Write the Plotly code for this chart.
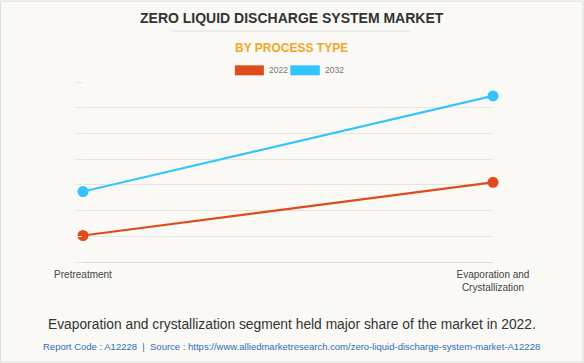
import plotly.graph_objects as go

categories = ["Pretreatment", "Evaporation and<br>Crystallization"]
values_2022 = [1.03, 3.10]
values_2032 = [2.74, 6.46]
series_names = ["2022", "2032"]
colors = ["#E04A1A", "#33C4FF"]

W, H = 584, 363
L, R, T, B = 83, 493.3, 81.7, 262.3


def px2x(p):
    return (p - L) / (R - L)


def px2y(p):
    return (B - p) / (B - T)


fig = go.Figure()
for name, vals, col in zip(series_names, [values_2022, values_2032], colors):
    fig.add_trace(go.Scatter(
        x=[0, 1], y=vals, mode="lines+markers", name=name,
        line=dict(color=col, width=2.2),
        marker=dict(color=col, size=11),
        cliponaxis=False, showlegend=False,
    ))

grid = "#E6E4DF"
fig.update_layout(
    width=W, height=H,
    margin=dict(l=L, r=W - R, t=T, b=H - B, pad=0),
    paper_bgcolor="#FAF9F5", plot_bgcolor="#FAF9F5",
    font=dict(family="Liberation Sans, Arial, sans-serif", color="#444"),
    xaxis=dict(
        range=[0, 1], tickmode="array", tickvals=[0, 1], ticktext=categories,
        showgrid=True, gridcolor=grid, zeroline=False, showline=True,
        linecolor="#DDDBD6", tickfont=dict(size=10, color="#444"), ticks="",
        ticklabelstandoff=3,
    ),
    yaxis=dict(
        range=[0, 7], dtick=1, showticklabels=False, showgrid=True,
        gridcolor=grid, zeroline=False, ticks="outside", ticklen=7,
        tickcolor=grid, showline=False,
    ),
)

ann = []
ann.append(dict(text="<b>ZERO LIQUID DISCHARGE SYSTEM MARKET</b>", x=px2x(292), y=px2y(17.5),
                font=dict(size=14, color="#333")))
ann.append(dict(text="<b>BY PROCESS TYPE</b>", x=px2x(292), y=px2y(48),
                font=dict(size=12, color="#F5A623")))
ann.append(dict(text="2022", x=px2x(267), y=px2y(70), xanchor="left",
                font=dict(size=8.5, color="#777")))
ann.append(dict(text="2032", x=px2x(323), y=px2y(70), xanchor="left",
                font=dict(size=8.5, color="#777")))
ann.append(dict(text="Evaporation and crystallization segment held major share of the market in 2022.",
                x=px2x(292), y=px2y(325), font=dict(size=13.8, color="#333")))
ann.append(dict(text="Report Code : A12228  |  Source : https://www.alliedmarketresearch.com/zero-liquid-discharge-system-market-A12228",
                x=px2x(292), y=px2y(347.5), font=dict(size=9.5, color="#2F6EBA")))
for a in ann:
    a.update(xref="paper", yref="paper", showarrow=False)
    a.setdefault("xanchor", "center")
    a.setdefault("yanchor", "middle")
fig.update_layout(annotations=ann)

shapes = [
    dict(type="line", x0=px2x(172), x1=px2x(411), y0=px2y(30.5), y1=px2y(30.5),
         line=dict(color="#DDDDDD", width=1)),
    dict(type="rect", x0=px2x(235), x1=px2x(264), y0=px2y(65), y1=px2y(75),
         fillcolor=colors[0], line=dict(width=0)),
    dict(type="rect", x0=px2x(290.5), x1=px2x(320), y0=px2y(65), y1=px2y(75),
         fillcolor=colors[1], line=dict(width=0)),
    dict(type="rect", x0=px2x(0.5), x1=px2x(W - 0.5), y0=px2y(0.5), y1=px2y(H - 0.5),
         line=dict(color="#DDDDDD", width=1), fillcolor="rgba(0,0,0,0)"),
]
for s in shapes:
    s.update(xref="paper", yref="paper")
fig.update_layout(shapes=shapes)

fig.write_html(
    "out.html",
    config={"displayModeBar": False},
    post_script="document.body.style.margin='0';document.body.style.overflow='hidden';",
)
